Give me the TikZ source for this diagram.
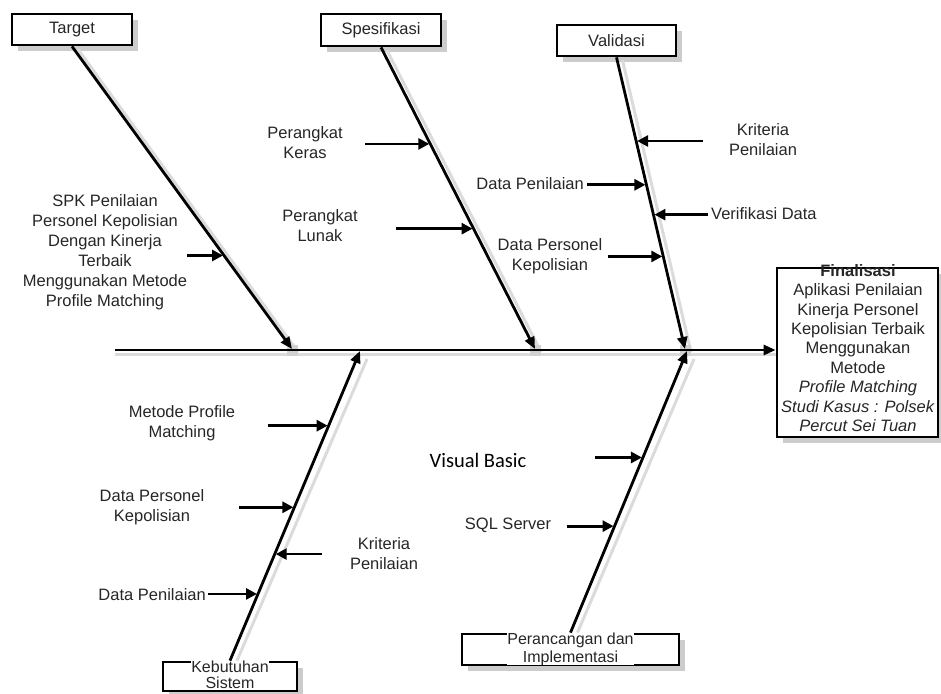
\documentclass[tikz,border=0pt]{standalone}
\usepackage{fontspec}
\setmainfont{Liberation Sans}
\newfontfamily\calfont{Carlito}
\usetikzlibrary{arrows.meta,calc}
\begin{document}
\begin{tikzpicture}[x=1pt,y=-1pt,
  lbl/.style={align=center,font=\fontsize{16.5}{20}\selectfont,inner sep=0pt,text=black!85},
  boxs/.style={draw,fill=white,line width=2.8pt,inner sep=0pt},
  shad/.style={fill=black!20,draw=none},
  bone/.style={line width=2.8pt,-{Triangle[length=12pt,width=10pt]}},
  arr/.style={line width=2.8pt,shorten >=1pt,-{Triangle[length=11pt,width=11pt]}},
  bshad/.style={line width=3pt,draw=black!14},
  jsq/.style={fill=black!18,draw=none},
]
\useasboundingbox (0,0) rectangle (941,693);

% shadows of boxes
\fill[shad] (18,20) rectangle (138,51);
\fill[shad] (327,20) rectangle (447,52);
\fill[shad] (563,31) rectangle (682,62);
\fill[shad] (783,274) rectangle (944,443);
\fill[shad] (169,668) rectangle (303,697);
\fill[shad] (468,640) rectangle (685,671);

% boxes
\node[boxs,minimum width=120pt,minimum height=31pt] (tgt) at (72,29.5) {};
\node[boxs,minimum width=120pt,minimum height=32pt] (spec) at (381,30) {};
\node[boxs,minimum width=119pt,minimum height=31pt] (val) at (616.5,40.5) {};
\node[boxs,minimum width=161pt,minimum height=169pt] (fin) at (857.5,352.5) {};
\node[boxs,minimum width=134pt,minimum height=29pt] (keb) at (230,676.5) {};
\node[boxs,minimum width=217pt,minimum height=31pt] (per) at (570.5,649.5) {};

\node[lbl] (tgtT) at (tgt.center) {Target};
\node[lbl] (specT) at (spec.center) {Spesifikasi};
\node[lbl] (valT) at (val.center) {Validasi};
\node[lbl,fill=white,font=\fontsize{16}{16.5}\selectfont] (kebT) at (230,675) {Kebutuhan\\Sistem};
\node[lbl,fill=white,font=\fontsize{16}{18}\selectfont] (perT) at (570.5,649) {Perancangan dan\\Implementasi};
\node[lbl,font=\fontsize{16.5}{19.4}\selectfont] (finT) at (858,348) {\textbf{Finalisasi}\\Aplikasi Penilaian\\Kinerja Personel\\Kepolisian Terbaik\\Menggunakan\\Metode\\\textit{Profile Matching}\\\textit{Studi Kasus : Polsek}\\\textit{Percut Sei Tuan}};

% spine coordinates
\coordinate (sp0) at (115,350);
\coordinate (j1) at (292,349);
\coordinate (j2) at (535,349);
\coordinate (j3) at (685,349);
\coordinate (j4) at (360,351);
\coordinate (j5) at (687,351);

% line shadows
\draw[bshad] ($(sp0)+(0,4)$) -- ($(fin.west |- sp0)+(0,4)$);
\draw[bshad] ($(tgt.south)+(6,3)$) -- ($(j1)+(6,3)$);
\draw[bshad] ($(spec.south)+(6,3)$) -- ($(j2)+(6,3)$);
\draw[bshad] ($(val.south)+(6,3)$) -- ($(j3)+(6,3)$);
\draw[bshad] ($(keb.north)+(7,0)$) -- ($(j4)+(7,8)$);
\draw[bshad] ($(per.north)+(7,0)$) -- ($(j5)+(7,8)$);
\fill[jsq] ($(j1)+(-5,-4)$) rectangle ($(j1)+(6,7)$);
\fill[jsq] ($(j2)+(-5,-4)$) rectangle ($(j2)+(6,7)$);
\fill[jsq] ($(j3)+(-5,-4)$) rectangle ($(j3)+(6,7)$);

% spine
\draw[bone] (sp0) -- (fin.west |- sp0);

% branches
\draw[bone] (tgt.south) -- (j1);
\draw[bone] (spec.south) -- (j2);
\draw[bone] (val.south) -- (j3);
\draw[bone] (keb.north) -- (j4);
\draw[bone] (per.north) -- (j5);

% arrow end points on branches
\coordinate (t1) at ($(tgt.south)!0.691!(j1)$);
\coordinate (s1) at ($(spec.south)!0.320!(j2)$);
\coordinate (s2) at ($(spec.south)!0.601!(j2)$);
\coordinate (v1) at ($(val.south)!0.2867!(j3)$);
\coordinate (v2) at ($(val.south)!0.4369!(j3)$);
\coordinate (v3) at ($(val.south)!0.5392!(j3)$);
\coordinate (v4) at ($(val.south)!0.6826!(j3)$);
\coordinate (k1) at ($(keb.north)!0.7588!(j4)$);
\coordinate (k2) at ($(keb.north)!0.4952!(j4)$);
\coordinate (k3) at ($(keb.north)!0.3441!(j4)$);
\coordinate (k4) at ($(keb.north)!0.2154!(j4)$);
\coordinate (p1) at ($(per.north)!0.6219!(j5)$);
\coordinate (p2) at ($(per.north)!0.3781!(j5)$);

% small arrows
\draw[arr] ($(t1)+(-37,0)$) -- (t1);
\draw[arr] ($(s1)+(-65,0)$) -- (s1);
\draw[arr] ($(s2)+(-78,0)$) -- (s2);
\draw[arr] ($(v1)+(67,0)$) -- (v1);
\draw[arr] ($(v2)+(-59,0)$) -- (v2);
\draw[arr] ($(v3)+(55,0)$) -- (v3);
\draw[arr] ($(v4)+(-55,0)$) -- (v4);
\draw[arr] ($(k1)+(-61,0)$) -- (k1);
\draw[arr] ($(k2)+(-55,0)$) -- (k2);
\draw[arr] ($(k3)+(47,0)$) -- (k3);
\draw[arr] ($(k4)+(-50,0)$) -- (k4);
\draw[arr] ($(p1)+(-48,0)$) -- (p1);
\draw[arr] ($(p2)+(-48,0)$) -- (p2);

% labels
\node[lbl] (lspk) at (105,252) {SPK Penilaian\\Personel Kepolisian\\Dengan Kinerja\\Terbaik\\Menggunakan Metode\\Profile Matching};
\node[lbl] (lpk) at (305,143) {Perangkat\\Keras};
\node[lbl] (lpl) at (320,226) {Perangkat\\Lunak};
\node[lbl] (lkr1) at (763,140) {Kriteria\\Penilaian};
\node[lbl,anchor=east] (ldp1) at (584,184) {Data Penilaian};
\node[lbl,anchor=west] (lvd) at (711,214) {Verifikasi Data};
\node[lbl] (ldk1) at (550,256) {Data Personel\\Kepolisian};
\node[lbl] (lmp) at (182,423) {Metode Profile\\Matching};
\node[lbl] (ldk2) at (152,507) {Data Personel\\Kepolisian};
\node[lbl] (lkr2) at (384,554) {Kriteria\\Penilaian};
\node[lbl,anchor=east] (ldp2) at (206,595) {Data Penilaian};
\node[inner sep=0pt,font=\calfont\fontsize{20.5}{24}\selectfont] (lvb) at (478,460) {Visual Basic};
\node[lbl] (lsql) at (508,525) {SQL Server};
\end{tikzpicture}
\end{document}
